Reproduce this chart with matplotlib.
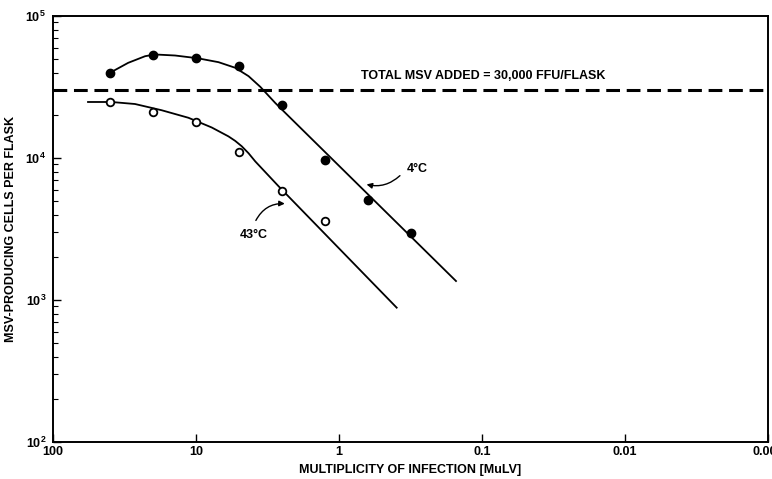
import math
import matplotlib
matplotlib.use("Agg")
import matplotlib.pyplot as plt
from matplotlib.ticker import FixedLocator, FuncFormatter, LogLocator, NullFormatter

plt.rcParams['font.family'] = ['Liberation Sans Narrow', 'Liberation Sans', 'DejaVu Sans']
plt.rcParams['font.weight'] = 'bold'
plt.rcParams['mathtext.fontset'] = 'custom'
plt.rcParams['mathtext.bf'] = 'Liberation Sans:bold'
plt.rcParams['mathtext.rm'] = 'Liberation Sans:bold'

# multiplicity of infection (two-fold dilutions)
moi = [40, 20, 10, 5, 2.5, 1.25, 0.625, 0.3125]

# measured points
cells_4c = [39800, 53100, 50600, 44400, 23600, 9730, 5080, 2940]
cells_43c = [24900, 21200, 18000, 10950, 5830, 3610]

# hand-drawn fit curves
fit_4c_x = [40, 29.8, 22.7, 19.4, 14.0, 9.73, 6.96, 5.32, 4.29, 3.55, 2.79, 2.25, 0.152]
fit_4c_y = [39800, 46800, 52100, 53600, 52700, 50400, 47300, 43200, 37700, 31700, 24400, 19700, 1360]
fit_43c_x = [56.9, 39.0, 26.7, 17.4, 11.3, 7.76, 5.93, 5.32, 4.79, 4.29, 3.85, 2.64, 0.395]
fit_43c_y = [24800, 24800, 24000, 21700, 19200, 16400, 14200, 13200, 12100, 10800, 9460, 6310, 883]

total_added = 30000

xticks = [100, 10, 1, 0.1, 0.01, 0.001]
xtick_labels = ['100', '10', '1', '0.1', '0.01', '0.001']

fig = plt.figure(figsize=(7.72, 4.79), dpi=100)
ax = fig.add_axes([53 / 772, 37 / 479, 715 / 772, 426 / 479])

ax.plot(fit_4c_x, fit_4c_y, color='black', lw=1.3, solid_joinstyle='round')
ax.plot(fit_43c_x, fit_43c_y, color='black', lw=1.3, solid_joinstyle='round')
ax.plot(moi, cells_4c, 'o', color='black', ms=6)
ax.plot(moi[:len(cells_43c)], cells_43c, 'o', mfc='white', mec='black', mew=1.3, ms=5.5)

ax.axhline(total_added, color='black', lw=2.2, dashes=(4.5, 2.2))
ax.text(0.098, 38100, 'TOTAL MSV ADDED = 30,000 FFU/FLASK', ha='center', va='center',
        fontsize=9, fontweight='bold')

# curve labels with arrows
ax.text(0.285, 8400, '4°C', ha='center', va='center', fontsize=9, fontweight='bold')
ax.annotate('', xy=(0.67, 6590), xytext=(0.363, 7750),
            arrowprops=dict(arrowstyle='-|>', color='black', lw=1.0,
                            connectionstyle='arc3,rad=-0.3', mutation_scale=8))
ax.text(3.96, 2870, '43°C', ha='center', va='center', fontsize=9, fontweight='bold')
ax.annotate('', xy=(2.29, 4760), xytext=(3.89, 3490),
            arrowprops=dict(arrowstyle='-|>', color='black', lw=1.0,
                            connectionstyle='arc3,rad=-0.35', mutation_scale=8))

ax.set_xscale('log')
ax.set_yscale('log')
ax.set_xlim(100, 0.001)
ax.set_ylim(100, 100000)

ax.xaxis.set_major_locator(FixedLocator(xticks))
ax.set_xticklabels(xtick_labels)
ax.xaxis.set_minor_locator(FixedLocator([]))
ax.yaxis.set_major_locator(LogLocator(base=10))
ax.yaxis.set_minor_locator(LogLocator(base=10, subs=[2, 3, 4, 5, 6, 7, 8, 9]))
ax.yaxis.set_minor_formatter(NullFormatter())
ax.yaxis.set_major_formatter(FuncFormatter(lambda v, p: r'$\mathbf{10^{%d}}$' % round(math.log10(v))))

ax.tick_params(axis='both', which='major', direction='in', length=6, width=1.0,
               labelsize=9, pad=3)
ax.tick_params(axis='y', which='major', pad=5)
ax.tick_params(axis='y', which='minor', direction='in', length=3.5, width=0.8)
for lab in ax.get_xticklabels():
    lab.set_fontweight('bold')

for sp in ax.spines.values():
    sp.set_linewidth(1.4)

ax.set_xlabel('MULTIPLICITY OF INFECTION [MuLV]', fontsize=9, fontweight='bold', labelpad=4)
ax.set_ylabel('MSV-PRODUCING CELLS PER FLASK', fontsize=9, fontweight='bold', labelpad=6)

fig.savefig('out.png', dpi=100, facecolor='white')
